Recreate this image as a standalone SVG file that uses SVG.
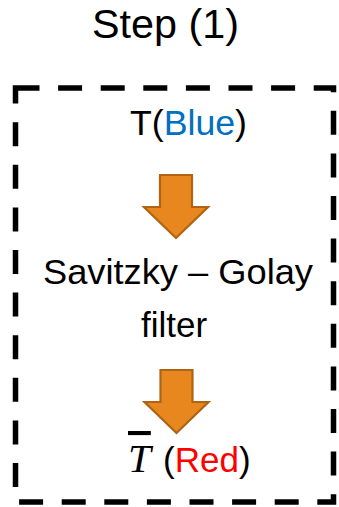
<svg xmlns="http://www.w3.org/2000/svg" width="339" height="507" viewBox="0 0 339 507">
  <style>
    .lbl { font-family: "Liberation Sans", Arial, sans-serif; fill: #000; }
    .mid { text-anchor: middle; }
    .math { font-family: "Liberation Serif", "Times New Roman", serif; font-style: italic; text-decoration: overline; }
    .blue { fill: #0070C0; }
    .red { fill: #FF0000; }
    .frame { fill: none; stroke: #000; stroke-width: 5.5; stroke-dasharray: 24 18.6; }
    .arrow { fill: #E8871E; stroke: #AE6414; stroke-width: 2.2; stroke-linejoin: miter; }
  </style>
  <defs>
    <!-- block down-arrow, origin at top-left of the shaft -->
    <path id="downArrow" d="M0 0 H32 V32 H48 L16 63 L-16 32 H0 Z"/>
  </defs>

  <rect width="339" height="507" fill="#fff"/>

  <g id="title">
    <text class="lbl mid" x="165.5" y="38" font-size="40" textLength="147" lengthAdjust="spacingAndGlyphs">Step (1)</text>
  </g>

  <g id="frame">
    <rect class="frame" x="15.5" y="88" width="318" height="414"/>
  </g>

  <g id="node-input">
    <text class="lbl mid" x="188.5" y="135" font-size="35" textLength="117" lengthAdjust="spacingAndGlyphs">T(<tspan class="blue">Blue</tspan>)</text>
  </g>

  <g id="node-filter">
    <text class="lbl mid" x="178" y="284" font-size="35" textLength="270" lengthAdjust="spacingAndGlyphs">Savitzky – Golay</text>
    <text class="lbl mid" x="174" y="337" font-size="35">filter</text>
  </g>

  <g id="node-output">
    <text class="lbl" y="472" font-size="35"><tspan class="math" x="128" font-size="41">T</tspan><tspan x="163">(</tspan><tspan class="red">Red</tspan>)</text>
  </g>

  <g id="connectors">
    <use href="#downArrow" class="arrow" x="160" y="175"/>
    <use href="#downArrow" class="arrow" x="160.5" y="370"/>
  </g>
</svg>
